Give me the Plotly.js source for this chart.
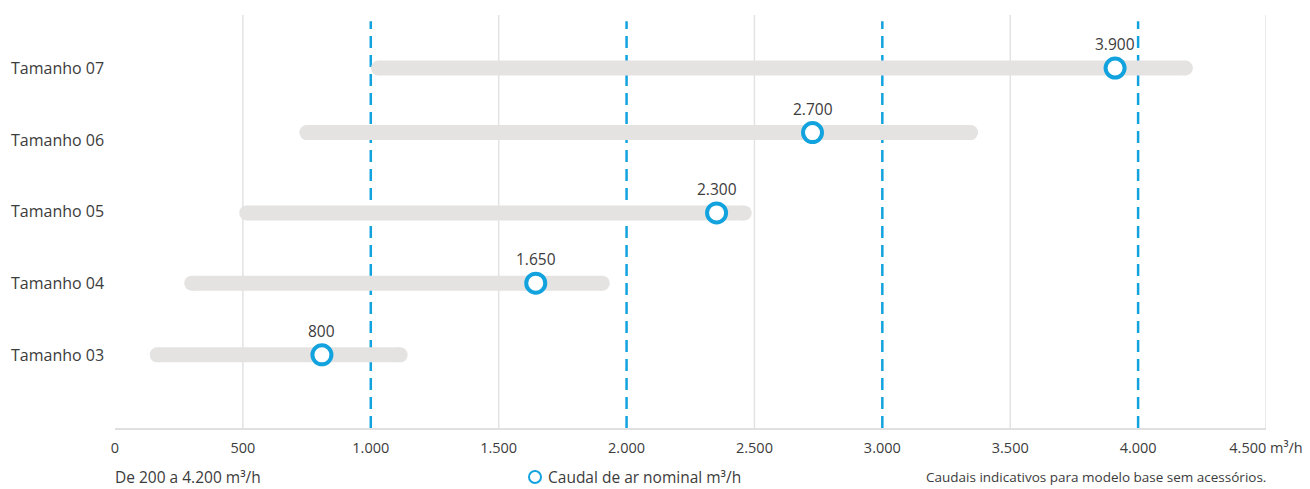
<!DOCTYPE html>
<html>
<head>
<meta charset="utf-8">
<script src="https://cdn.plot.ly/plotly-3.0.1.min.js"></script>
<style>html,body{margin:0;padding:0;background:#fff;}#chart{width:1310px;height:489px;}</style>
</head>
<body>
<div id="chart"></div>
<script>
// Data
const categories = ["Tamanho 03", "Tamanho 04", "Tamanho 05", "Tamanho 06", "Tamanho 07"];
const rowPos = [0, 1, 1.98, 3.1, 4];
const rangeStart = [165, 300, 515, 750, 1030];
const rangeEnd = [1115, 1905, 2460, 3345, 4185];
const nominalPos = [809, 1645, 2352, 2727, 3910];
const nominalLabels = ["800", "1.650", "2.300", "2.700", "3.900"];
const xTickVals = [0, 500, 1000, 1500, 2000, 2500, 3000, 3500, 4000, 4500];
const xTickText = ["0", "500", "1.000", "1.500", "2.000", "2.500", "3.000", "3.500", "4.000", "4.500 m³/h"];
const greyGrid = [500, 1500, 2500, 3500, 4500];
const blueGrid = [1000, 2000, 3000, 4000];

const BLUE = "#12a3df";
const BAR = "#e4e3e1";
const TEXT = "#3c3c3c";
const FONT = "Open Sans, Noto Sans, sans-serif";
const FOOT_Y = -(477 - 428) / 413;

const traces = [];
categories.forEach((c, i) => {
  traces.push({
    type: "scatter", mode: "lines+markers",
    x: [rangeStart[i], rangeEnd[i]], y: [rowPos[i], rowPos[i]],
    line: {color: BAR, width: 15},
    marker: {color: BAR, size: 15, line: {width: 0}},
    hoverinfo: "skip", showlegend: false
  });
});
traces.push({
  type: "scatter", mode: "markers",
  x: nominalPos, y: rowPos,
  name: "Caudal de ar nominal m³/h",
  marker: {symbol: "circle", size: 19, color: "#ffffff", line: {color: BLUE, width: 4}},
  showlegend: false, hoverinfo: "x"
});

const shapes = [];
greyGrid.forEach(v => shapes.push({
  type: "line", xref: "x", yref: "paper", x0: v, x1: v, y0: 0, y1: 1,
  line: {color: "#e3e3e3", width: 1.5}, layer: "below"
}));
blueGrid.forEach(v => shapes.push({
  type: "line", xref: "x", yref: "paper", x0: v, x1: v, y0: 0, y1: 0.985,
  line: {color: BLUE, width: 2.5, dash: "12px,7px"}, layer: "below"
}));
// legend symbol
shapes.push({
  type: "circle", xref: "paper", yref: "paper", xsizemode: "pixel", ysizemode: "pixel",
  xanchor: (535 - 115) / 1151, yanchor: FOOT_Y, x0: -6, x1: 6, y0: -6, y1: 6,
  line: {color: BLUE, width: 2}, fillcolor: "#ffffff"
});

const annotations = nominalPos.map((v, i) => ({
  x: v, y: rowPos[i], xref: "x", yref: "y", text: nominalLabels[i],
  showarrow: false, yshift: 24, font: {family: FONT, size: 15.5, color: TEXT}
}));
categories.forEach((c, i) => annotations.push({
  xref: "paper", yref: "y", x: -106 / 1151, y: i, xanchor: "left", yanchor: "middle",
  text: c, showarrow: false, font: {family: FONT, size: 16, color: TEXT}
}));
annotations.push({
  xref: "paper", yref: "paper", x: -0.002, y: FOOT_Y, xanchor: "left", yanchor: "middle",
  text: "De 200 a 4.200 m³/h", showarrow: false, font: {family: FONT, size: 15.5, color: TEXT}
});
annotations.push({
  xref: "paper", yref: "paper", x: (546 - 115) / 1151, y: FOOT_Y, xanchor: "left", yanchor: "middle",
  text: "Caudal de ar nominal m³/h", showarrow: false, font: {family: FONT, size: 15.5, color: TEXT}
});
annotations.push({
  xref: "paper", yref: "paper", x: 1.0017, y: FOOT_Y, xanchor: "right", yanchor: "middle",
  text: "Caudais indicativos para modelo base sem acessórios.", showarrow: false,
  font: {family: FONT, size: 13.5, color: TEXT}
});

const layout = {
  width: 1310, height: 489,
  margin: {l: 115, r: 44, t: 15, b: 61, autoexpand: false},
  paper_bgcolor: "#ffffff", plot_bgcolor: "#ffffff",
  font: {family: FONT, color: TEXT},
  showlegend: false,
  xaxis: {
    range: [0, 4500], tickvals: xTickVals, ticktext: xTickText,
    showgrid: false, zeroline: false, showline: true, linecolor: "#e0e0e0", linewidth: 1.5,
    ticks: "", tickfont: {family: FONT, size: 14.5, color: TEXT}, fixedrange: true,
    ticklabelstandoff: 6, automargin: false
  },
  yaxis: {
    range: [-1.02, 4.74], tickvals: [0, 1, 2, 3, 4], showticklabels: false,
    showgrid: false, zeroline: false, showline: false, ticks: "",
    fixedrange: true, automargin: false
  },
  shapes: shapes,
  annotations: annotations
};

Plotly.newPlot("chart", traces, layout, {displayModeBar: false, staticPlot: true});
</script>
</body>
</html>
